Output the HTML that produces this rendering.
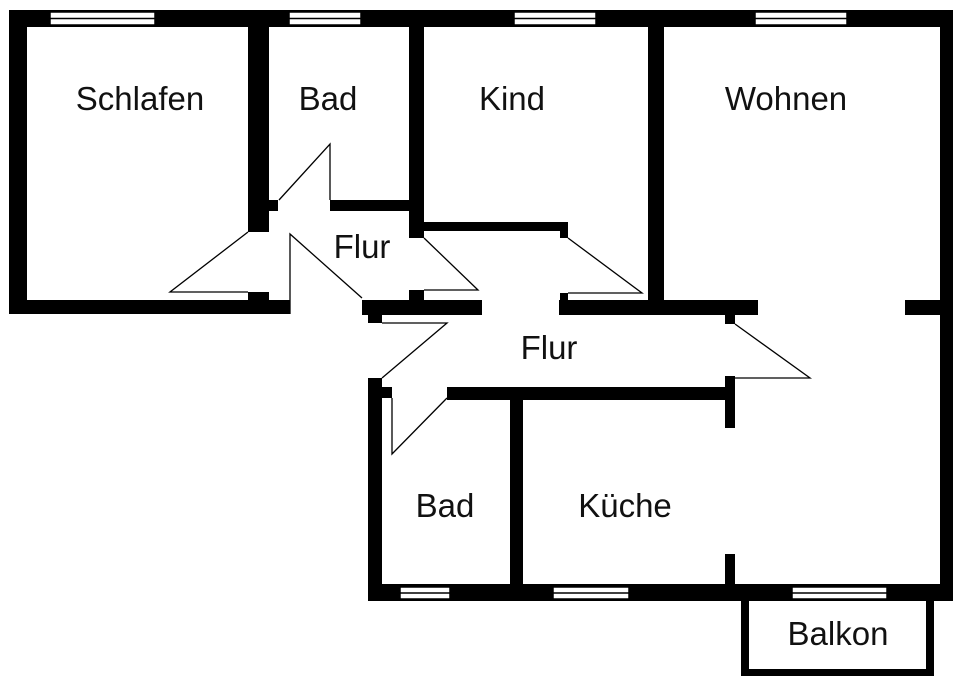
<!DOCTYPE html>
<html><head><style>
html,body{margin:0;padding:0;background:#fff;}
svg{display:block;}
text{font-family:"Liberation Sans",sans-serif;font-size:33px;fill:#111;text-anchor:middle;}
</style></head><body>
<svg width="960" height="685" viewBox="0 0 960 685" xmlns="http://www.w3.org/2000/svg">
<rect width="960" height="685" fill="#fff"/>
<g fill="#000">
<rect x="9" y="10" width="944" height="17"/>
<rect x="9" y="10" width="18" height="304"/>
<rect x="9" y="300" width="281" height="14"/>
<rect x="248" y="292" width="21" height="10"/>
<rect x="248" y="10" width="21" height="222"/>
<rect x="269" y="200" width="9" height="11"/>
<rect x="330" y="200" width="80" height="11"/>
<rect x="409" y="10" width="15" height="228"/>
<rect x="423" y="222" width="145" height="9"/>
<rect x="560" y="222" width="8" height="16"/>
<rect x="648" y="10" width="16" height="305"/>
<rect x="940" y="10" width="13" height="591"/>
<rect x="362" y="300" width="120" height="15"/>
<rect x="409" y="290" width="15" height="12"/>
<rect x="368" y="313" width="14" height="10"/>
<rect x="559" y="300" width="199" height="15"/>
<rect x="560" y="293" width="8" height="9"/>
<rect x="905" y="300" width="36" height="15"/>
<rect x="725" y="313" width="10" height="11"/>
<rect x="368" y="378" width="14" height="223"/>
<rect x="380" y="387" width="12" height="11"/>
<rect x="447" y="387" width="278" height="13"/>
<rect x="725" y="376" width="10" height="52"/>
<rect x="725" y="554" width="10" height="32"/>
<rect x="510" y="398" width="13" height="188"/>
<rect x="368" y="584" width="585" height="17"/>
<rect x="741" y="598" width="8" height="78"/>
<rect x="926" y="598" width="8" height="78"/>
<rect x="741" y="669" width="193" height="7"/>
</g>
<g fill="#fff" stroke="#000" stroke-width="1.5">
<rect x="50" y="12" width="105" height="13"/>
<rect x="289" y="12" width="72" height="13"/>
<rect x="514" y="12" width="82" height="13"/>
<rect x="755" y="12" width="92" height="13"/>
<rect x="400" y="587" width="50" height="12"/>
<rect x="553" y="587" width="76" height="12"/>
<rect x="792" y="587" width="95" height="12"/>
</g>
<g stroke="#000" stroke-width="1.5">
<line x1="50" y1="18.5" x2="155" y2="18.5"/>
<line x1="289" y1="18.5" x2="361" y2="18.5"/>
<line x1="514" y1="18.5" x2="596" y2="18.5"/>
<line x1="755" y1="18.5" x2="847" y2="18.5"/>
<line x1="400" y1="593" x2="450" y2="593"/>
<line x1="553" y1="593" x2="629" y2="593"/>
<line x1="792" y1="593" x2="887" y2="593"/>
</g>
<g fill="none" stroke="#000" stroke-width="1.3">
<polyline points="248,232 170,292 248,292"/>
<polyline points="279,200 330,144 330,200"/>
<polyline points="290,314 290,234 362,298"/>
<polyline points="424,238 478,290 424,290"/>
<polyline points="568,238 642,293 568,293"/>
<polyline points="382,323 447,323 382,378"/>
<polyline points="392,398 392,454 447,398"/>
<polyline points="735,324 810,378 735,378"/>
</g>
<text x="140" y="110">Schlafen</text>
<text x="328" y="110">Bad</text>
<text x="512" y="110">Kind</text>
<text x="786" y="110">Wohnen</text>
<text x="362" y="258">Flur</text>
<text x="549" y="359">Flur</text>
<text x="445" y="517">Bad</text>
<text x="625" y="517">Küche</text>
<text x="838" y="645">Balkon</text>
</svg>
</body></html>
